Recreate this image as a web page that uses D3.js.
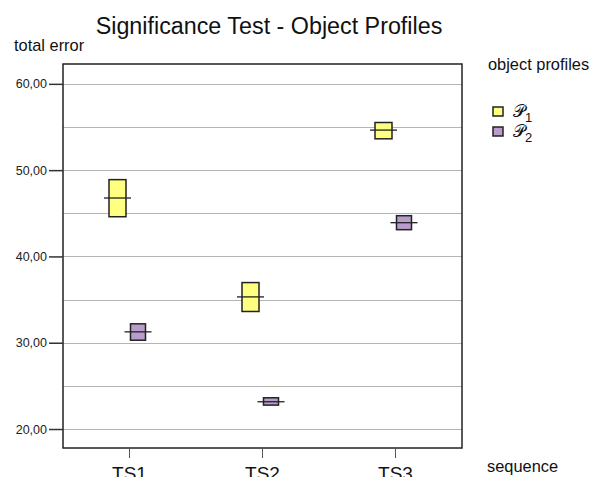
<!DOCTYPE html>
<html><head><meta charset="utf-8">
<script src="https://cdn.jsdelivr.net/npm/d3@7"></script>
<style>body{margin:0;background:#fff}svg{display:block}text{font-family:"Liberation Sans",Arial,sans-serif}</style>
</head><body><svg id="c" width="600" height="477"></svg>
<script>
const categories = ["TS1","TS2","TS3"];
const seriesNames = ["P1","P2"];
const p1Mean = [46.77, 35.31, 54.64];
const p1Low  = [44.60, 33.62, 53.63];
const p1High = [48.90, 36.97, 55.52];
const p2Mean = [31.26, 23.16, 43.91];
const p2Low  = [30.29, 22.77, 43.10];
const p2High = [32.19, 23.62, 44.72];
const yTicks = [20, 30, 40, 50, 60];
const gridValues = [20, 25, 30, 35, 40, 45, 50, 55, 60];
const colors = ["#ffff80", "#b89ccc"];

const svg = d3.select("#c");
const L = 63, R = 462, T = 64, B = 448;
const y = d3.scaleLinear().domain([17.8, 62.3]).range([B, T]);
const x = d3.scaleBand().domain(categories).range([L, R]);
const offs = [-12, 8.5];
const boxW = [17, 15];

// grid
svg.append("g").selectAll("line").data(gridValues).join("line")
  .attr("x1", L).attr("x2", R).attr("y1", d => Math.round(y(d)) + 0.5).attr("y2", d => Math.round(y(d)) + 0.5)
  .attr("stroke", "#b4b4b4").attr("stroke-width", 1.2);

// frame
svg.append("rect").attr("x", L).attr("y", T).attr("width", R - L).attr("height", B - T)
  .attr("fill", "none").attr("stroke", "#222").attr("stroke-width", 1.5);

// y axis
const yAxis = d3.axisLeft(y).tickValues(yTicks).tickSize(14).tickPadding(2)
  .tickFormat(d => d3.format(".2f")(d).replace(".", ","));
const ga = svg.append("g").attr("transform", `translate(${L},0)`).call(yAxis);
ga.select(".domain").remove();
ga.selectAll(".tick line").attr("stroke", "#333").attr("stroke-width", 1.5);
ga.selectAll(".tick text").attr("fill", "#222").attr("font-family", "'DejaVu Sans',sans-serif").attr("font-size", 12.5);

// x axis
const xAxis = d3.axisBottom(x).tickSize(10).tickPadding(6);
const gx = svg.append("g").attr("transform", `translate(0,${B})`).call(xAxis);
gx.select(".domain").remove();
gx.selectAll(".tick line").attr("stroke", "#555").attr("stroke-width", 1);
gx.selectAll(".tick text").attr("font-size", 19).attr("fill", "#111").attr("dy", "0.85em");

const series = [
  {mean: p1Mean, low: p1Low, high: p1High},
  {mean: p2Mean, low: p2Low, high: p2High}
];
series.forEach((s, si) => {
  const g = svg.append("g");
  categories.forEach((c, i) => {
    const cx = x(c) + x.bandwidth() / 2 + offs[si];
    g.append("rect").attr("x", cx - boxW[si] / 2).attr("width", boxW[si])
      .attr("y", y(s.high[i])).attr("height", y(s.low[i]) - y(s.high[i]))
      .attr("fill", colors[si]).attr("stroke", "#222").attr("stroke-width", 1.5);
    g.append("line").attr("x1", cx - 13.5).attr("x2", cx + 13.5)
      .attr("y1", y(s.mean[i])).attr("y2", y(s.mean[i]))
      .attr("stroke", "#222").attr("stroke-width", 1.3);
  });
});

// titles
svg.append("text").attr("x", 269).attr("y", 34).attr("text-anchor", "middle")
  .attr("font-size", 23.3).attr("fill", "#111").text("Significance Test - Object Profiles");
svg.append("text").attr("x", 14).attr("y", 51).attr("font-size", 16.4).attr("fill", "#111").text("total error");
svg.append("text").attr("x", 487).attr("y", 472).attr("font-size", 16.4).attr("fill", "#111").text("sequence");

// legend
svg.append("text").attr("x", 488).attr("y", 70).attr("font-size", 16.4).attr("fill", "#111").text("object profiles");
const lg = svg.append("g").selectAll("g").data(seriesNames).join("g")
  .attr("transform", (d, i) => `translate(493,${107 + i * 20})`);
lg.append("rect").attr("width", 10).attr("height", 9).attr("fill", (d, i) => colors[i])
  .attr("stroke", "#222").attr("stroke-width", 1.5);
const lt = lg.append("text").attr("x", 20).attr("y", 10).attr("fill", "#111");
lt.append("tspan").attr("font-size", 17).attr("font-family", "'DejaVu Serif',serif").text("\u{1D4AB}");
lt.append("tspan").attr("font-size", 13).attr("dy", 5).text(d => d.slice(1));
</script></body></html>
